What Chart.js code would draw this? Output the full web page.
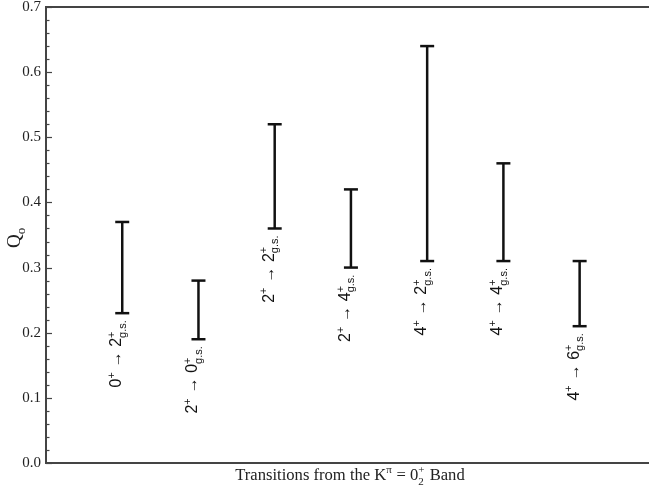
<!DOCTYPE html>
<html>
<head>
<meta charset="utf-8">
<script src="https://cdn.jsdelivr.net/npm/chart.js@4.4.1/dist/chart.umd.min.js"></script>
<style>
  html, body { margin: 0; background: #fff; }
  #wrap { width: 649px; height: 488px; }
</style>
</head>
<body>
<div id="wrap"><canvas id="qChart"></canvas></div>
<script>
// transition data: Q0 ranges per transition out of the K=0_2+ band
const positions = [1, 2, 3, 4, 5, 6, 7];
const lowValues = [0.23, 0.19, 0.36, 0.30, 0.31, 0.31, 0.21];
const highValues = [0.37, 0.28, 0.52, 0.42, 0.64, 0.46, 0.31];
const initialSpins = ['0', '2', '2', '2', '4', '4', '4'];
const finalSpins = ['2', '0', '2', '4', '2', '4', '6'];
const yTickLabels = ['0.0', '0.1', '0.2', '0.3', '0.4', '0.5', '0.6', '0.7'];

const SERIF = '"Liberation Serif", "DejaVu Serif", serif';
const SANS = '"Liberation Sans", Arial, sans-serif';
const INK = '#111';
const AXIS = '#444';

const datasets = positions.map((p, i) => ({
  data: [{ x: p, y: lowValues[i] }, { x: p, y: highValues[i] }],
  showLine: true,
  borderColor: INK,
  borderWidth: 2.5,
  pointStyle: 'line',
  pointRadius: 7,
  pointBorderWidth: 2.5,
  pointBorderColor: INK,
  pointBackgroundColor: INK
}));

// draw a run of text pieces: main / sup / sub / stacked sup+sub
const drawRich = (ctx, pieces, x, y, size, align, family) => {
  const small = Math.round(size * 0.66);
  const fMain = size + 'px ' + family;
  const fSmall = small + 'px ' + family;
  const widthOf = (pc) => {
    if (pc.stack) {
      ctx.font = fSmall;
      return Math.max(ctx.measureText(pc.sup).width, ctx.measureText(pc.sub).width) + 1;
    }
    ctx.font = pc.kind === 'main' ? fMain : fSmall;
    return ctx.measureText(pc.t).width + (pc.kind === 'main' ? 0 : 0.5);
  };
  const total = pieces.reduce((s, pc) => s + widthOf(pc), 0);
  let cx = align === 'right' ? x - total : align === 'center' ? x - total / 2 : x;
  ctx.textAlign = 'left';
  ctx.textBaseline = 'alphabetic';
  pieces.forEach(pc => {
    const w = widthOf(pc);
    if (pc.stack) {
      ctx.font = fSmall;
      ctx.fillText(pc.sup, cx, y - size * 0.4);
      ctx.fillText(pc.sub, cx, y + size * 0.28);
    } else if (pc.kind === 'sup') {
      ctx.font = fSmall;
      ctx.fillText(pc.t, cx, y - size * 0.4);
    } else if (pc.kind === 'sub') {
      ctx.font = fSmall;
      ctx.fillText(pc.t, cx, y + size * 0.28);
    } else {
      ctx.font = fMain;
      ctx.fillText(pc.t, cx, y);
    }
    cx += w;
  });
};

const annotations = {
  id: 'annotations',
  afterDraw(chart) {
    const { ctx, chartArea, scales } = chart;
    const xs = scales.x, ys = scales.y;
    ctx.save();

    // top frame line
    ctx.strokeStyle = AXIS;
    ctx.lineWidth = 2;
    ctx.beginPath();
    ctx.moveTo(chartArea.left, chartArea.top);
    ctx.lineTo(chart.width, chartArea.top);
    ctx.stroke();

    // inward ticks on the y axis, minor every 0.02
    ctx.lineWidth = 1.2;
    for (let k = 0; k <= 35; k++) {
      const py = Math.round(ys.getPixelForValue(k / 50)) + 0.5;
      const len = k % 5 === 0 ? 6 : 3.5;
      ctx.beginPath();
      ctx.moveTo(chartArea.left, py);
      ctx.lineTo(chartArea.left + len, py);
      ctx.stroke();
    }

    // rotated transition labels under each bar
    ctx.fillStyle = INK;
    positions.forEach((p, i) => {
      const px = xs.getPixelForValue(p);
      const py = ys.getPixelForValue(lowValues[i]);
      ctx.save();
      ctx.translate(px - 1, py + 6);
      ctx.rotate(-Math.PI / 2);
      drawRich(ctx, [
        { kind: 'main', t: initialSpins[i] },
        { kind: 'sup', t: '+' },
        { kind: 'main', t: ' \u2192 ' + finalSpins[i] },
        { stack: true, sup: '+', sub: 'g.s.' }
      ], 0, 0, 16, 'right', SANS);
      ctx.restore();
    });

    // y axis title Q_o
    ctx.fillStyle = '#222';
    ctx.save();
    ctx.translate(20, 248);
    ctx.rotate(-Math.PI / 2);
    drawRich(ctx, [{ kind: 'main', t: 'Q' }, { kind: 'sub', t: 'o' }], 0, 0, 19, 'left', SERIF);
    ctx.restore();

    // x axis title
    drawRich(ctx, [
      { kind: 'main', t: 'Transitions from the K' },
      { kind: 'sup', t: '\u03c0' },
      { kind: 'main', t: ' = 0' },
      { stack: true, sup: '+', sub: '2' },
      { kind: 'main', t: ' Band' }
    ], 350, 480, 16.6, 'center', SERIF);

    ctx.restore();
  }
};

const noPad = (s) => { s.paddingLeft = 0; s.paddingRight = 0; s.paddingTop = 0; s.paddingBottom = 0; };

new Chart(document.getElementById('qChart'), {
  type: 'scatter',
  data: { datasets },
  options: {
    responsive: true,
    maintainAspectRatio: false,
    animation: false,
    devicePixelRatio: 1,
    layout: { autoPadding: false, padding: { top: 7, right: 0, left: 0, bottom: 0 } },
    plugins: { legend: { display: false }, tooltip: { enabled: false } },
    scales: {
      x: {
        type: 'linear',
        min: 0,
        max: 7.91,
        ticks: { display: false },
        grid: { drawOnChartArea: false, drawTicks: false, color: 'transparent' },
        border: { display: true, color: AXIS, width: 2 },
        afterFit: (s) => { s.height = 25; noPad(s); }
      },
      y: {
        type: 'linear',
        min: 0,
        max: 0.7,
        afterBuildTicks: (s) => { s.ticks = yTickLabels.map(v => ({ value: parseFloat(v) })); },
        ticks: {
          padding: 5,
          color: '#222',
          font: { family: SERIF, size: 15 },
          callback: (v, i) => yTickLabels[i]
        },
        grid: { drawOnChartArea: false, drawTicks: false, color: 'transparent' },
        border: { display: true, color: AXIS, width: 2 },
        afterFit: (s) => { s.width = 46; noPad(s); }
      }
    }
  },
  plugins: [annotations]
});
</script>
</body>
</html>
